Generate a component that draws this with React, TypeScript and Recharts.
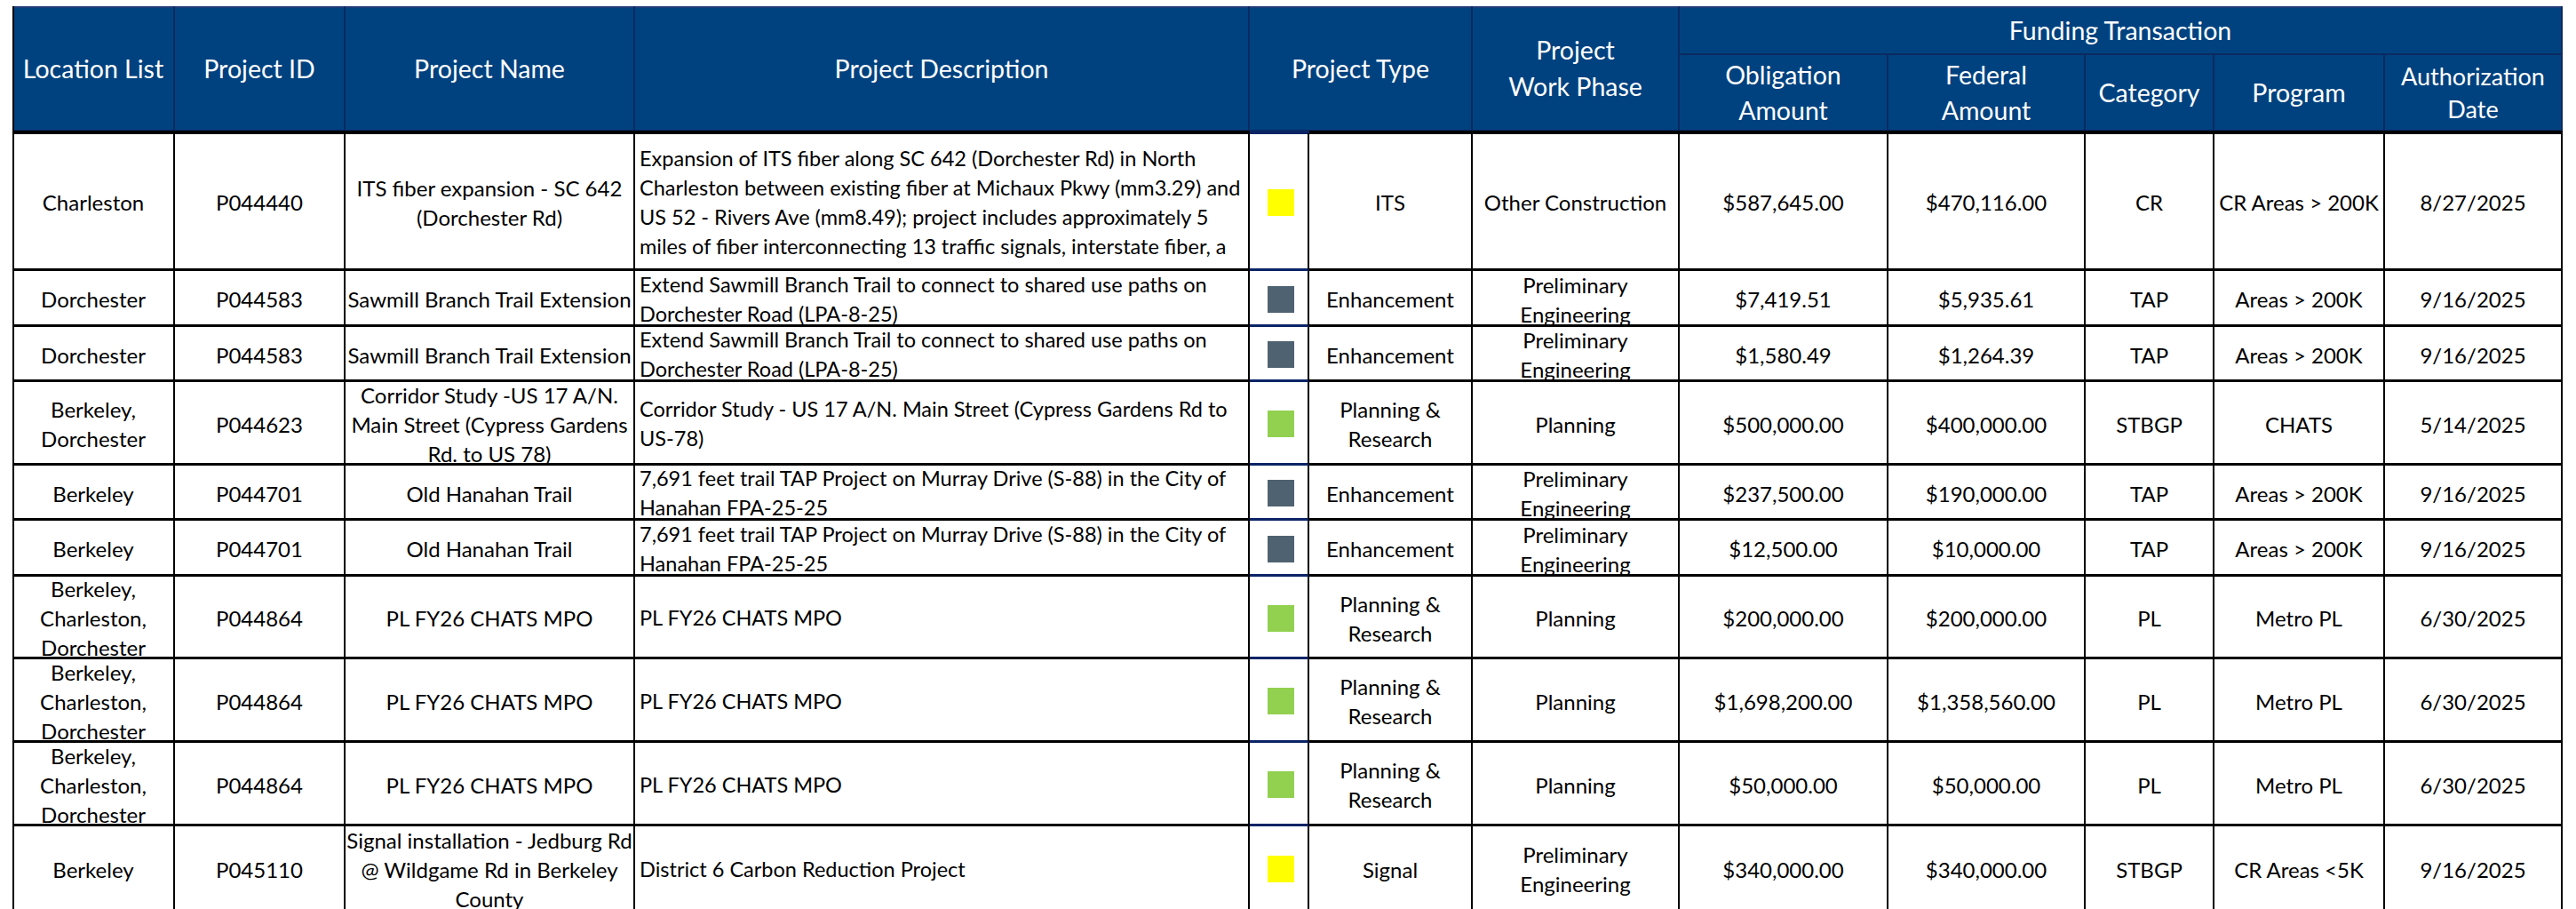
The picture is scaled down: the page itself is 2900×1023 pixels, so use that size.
import React from "react";
import { Surface, Rectangle } from "recharts";

// --- data ---
const locations = [
  "Charleston",
  "Dorchester",
  "Dorchester",
  "Berkeley,\nDorchester",
  "Berkeley",
  "Berkeley",
  "Berkeley,\nCharleston,\nDorchester",
  "Berkeley,\nCharleston,\nDorchester",
  "Berkeley,\nCharleston,\nDorchester",
  "Berkeley",
];
const projectIds = [
  "P044440", "P044583", "P044583", "P044623", "P044701",
  "P044701", "P044864", "P044864", "P044864", "P045110",
];
const projectNames = [
  "ITS fiber expansion - SC 642\n(Dorchester Rd)",
  "Sawmill Branch Trail Extension",
  "Sawmill Branch Trail Extension",
  "Corridor Study -US 17 A/N.\nMain Street (Cypress Gardens\nRd. to US 78)",
  "Old Hanahan Trail",
  "Old Hanahan Trail",
  "PL FY26 CHATS MPO",
  "PL FY26 CHATS MPO",
  "PL FY26 CHATS MPO",
  "Signal installation - Jedburg Rd\n@ Wildgame Rd in Berkeley\nCounty",
];
const descriptions = [
  "Expansion of ITS fiber along SC 642 (Dorchester Rd) in North\nCharleston between existing fiber at Michaux Pkwy (mm3.29) and\nUS 52 - Rivers Ave (mm8.49); project includes approximately 5\nmiles of fiber interconnecting 13 traffic signals, interstate fiber, a",
  "Extend Sawmill Branch Trail to connect to shared use paths on\nDorchester Road (LPA-8-25)",
  "Extend Sawmill Branch Trail to connect to shared use paths on\nDorchester Road (LPA-8-25)",
  "Corridor Study - US 17 A/N. Main Street (Cypress Gardens Rd to\nUS-78)",
  "7,691 feet trail TAP Project on Murray Drive (S-88) in the City of\nHanahan FPA-25-25",
  "7,691 feet trail TAP Project on Murray Drive (S-88) in the City of\nHanahan FPA-25-25",
  "PL FY26 CHATS MPO",
  "PL FY26 CHATS MPO",
  "PL FY26 CHATS MPO",
  "District 6 Carbon Reduction Project",
];
const projectTypes = [
  "ITS", "Enhancement", "Enhancement", "Planning &\nResearch", "Enhancement",
  "Enhancement", "Planning &\nResearch", "Planning &\nResearch", "Planning &\nResearch", "Signal",
];
const workPhases = [
  "Other Construction", "Preliminary\nEngineering", "Preliminary\nEngineering", "Planning",
  "Preliminary\nEngineering", "Preliminary\nEngineering", "Planning", "Planning", "Planning",
  "Preliminary\nEngineering",
];
const obligationAmounts = [
  587645, 7419.51, 1580.49, 500000, 237500, 12500, 200000, 1698200, 50000, 340000,
];
const federalAmounts = [
  470116, 5935.61, 1264.39, 400000, 190000, 10000, 200000, 1358560, 50000, 340000,
];
const categories = ["CR", "TAP", "TAP", "STBGP", "TAP", "TAP", "PL", "PL", "PL", "STBGP"];
const programs = [
  "CR Areas > 200K", "Areas > 200K", "Areas > 200K", "CHATS", "Areas > 200K",
  "Areas > 200K", "Metro PL", "Metro PL", "Metro PL", "CR Areas <5K",
];
const authDates = [
  "8/27/2025", "9/16/2025", "9/16/2025", "5/14/2025", "9/16/2025",
  "9/16/2025", "6/30/2025", "6/30/2025", "6/30/2025", "9/16/2025",
];

const TYPE_COLORS: Record<string, string> = {
  ITS: "#FFFF00",
  Signal: "#FFFF00",
  Enhancement: "#4F6271",
  "Planning &\nResearch": "#92D050",
};

// --- layout ---
const FONT = "Lato, 'Open Sans', sans-serif";
const NAVY = "#00427F";
const NAVY_LINE = "#0B2A60";
const COL_X = [15, 197, 389, 715, 1407, 1474, 1658, 1891, 2126, 2348, 2493, 2685, 2885];
const ROW_Y = [150, 305, 368, 430, 524, 586, 649, 742, 836, 930, 1026];
const HEAD_TOP = 7;
const HEAD_MID = 62;
const HEAD_BOTTOM = 148;

const money = (v: number) =>
  "$" + v.toLocaleString("en-US", { minimumFractionDigits: 2, maximumFractionDigits: 2 });

function HeaderCell({
  x0, x1, y0, y1, label, size = 28.5, lh = 38,
}: { x0: number; x1: number; y0: number; y1: number; label: string; size?: number; lh?: number }) {
  return (
    <div
      style={{
        position: "absolute",
        left: x0,
        top: y0,
        width: x1 - x0,
        height: y1 - y0,
        boxSizing: "border-box",
        borderRight: `2px solid ${NAVY_LINE}`,
        borderBottom: `2px solid ${NAVY_LINE}`,
        display: "flex",
        alignItems: "center",
        justifyContent: "center",
        textAlign: "center",
        whiteSpace: "pre",
        color: "#fff",
        fontSize: size,
        lineHeight: `${lh}px`,
      }}
    >
      {label}
    </div>
  );
}

function BodyCell({
  x0, x1, y0, y1, children, align = "center", navy = false, size = 24,
}: {
  x0: number; x1: number; y0: number; y1: number; children: React.ReactNode;
  align?: "center" | "left"; navy?: boolean; size?: number;
}) {
  return (
    <div
      style={{
        position: "absolute",
        left: x0,
        top: y0,
        width: x1 - x0,
        height: y1 - y0,
        boxSizing: "border-box",
        borderRight: "2px solid #000",
        borderBottom: `3px solid ${navy ? "#0A2466" : "#000"}`,
        display: "flex",
        alignItems: "center",
        justifyContent: align === "left" ? "flex-start" : "center",
        textAlign: align,
        paddingLeft: align === "left" ? 5 : 0,
        paddingTop: 3,
        whiteSpace: "pre",
        overflow: "hidden",
        color: "#000",
        fontSize: size,
        lineHeight: "33px",
      }}
    >
      <div style={{ width: "100%" }}>{children}</div>
    </div>
  );
}

function TypeSwatch({ color }: { color: string }) {
  return (
    <Surface width={30} height={30} viewBox={{ x: 0, y: 0, width: 30, height: 30 }}>
      <Rectangle x={0} y={0} width={30} height={30} fill={color} stroke="none" />
    </Surface>
  );
}

export default function App() {
  const cols: string[][] = [
    locations,
    projectIds,
    projectNames,
    descriptions,
    [],
    projectTypes,
    workPhases,
    obligationAmounts.map(money),
    federalAmounts.map(money),
    categories,
    programs,
    authDates,
  ];

  return (
    <div
      style={{
        position: "absolute",
        left: 0,
        top: 0,
        width: 2900,
        height: 1023,
        overflow: "hidden",
        background: "#fff",
        fontFamily: FONT,
      }}
    >
      {/* header block */}
      <div
        style={{
          position: "absolute",
          left: COL_X[0],
          top: HEAD_TOP,
          width: COL_X[12] - COL_X[0],
          height: HEAD_BOTTOM - HEAD_TOP,
          background: NAVY,
          borderTop: `2px solid #1F3C78`,
          boxSizing: "border-box",
        }}
      />
      <HeaderCell x0={COL_X[0]} x1={COL_X[1]} y0={HEAD_TOP} y1={HEAD_BOTTOM} label="Location List" />
      <HeaderCell x0={COL_X[1]} x1={COL_X[2]} y0={HEAD_TOP} y1={HEAD_BOTTOM} label="Project ID" />
      <HeaderCell x0={COL_X[2]} x1={COL_X[3]} y0={HEAD_TOP} y1={HEAD_BOTTOM} label="Project Name" />
      <HeaderCell x0={COL_X[3]} x1={COL_X[4]} y0={HEAD_TOP} y1={HEAD_BOTTOM} label="Project Description" />
      <HeaderCell x0={COL_X[4]} x1={COL_X[6]} y0={HEAD_TOP} y1={HEAD_BOTTOM} label="Project Type" />
      <HeaderCell x0={COL_X[6]} x1={COL_X[7]} y0={HEAD_TOP} y1={HEAD_BOTTOM} label={"Project\nWork Phase"} lh={41} />
      <HeaderCell x0={COL_X[7]} x1={COL_X[12]} y0={HEAD_TOP} y1={HEAD_MID} label="Funding Transaction" />
      <HeaderCell x0={COL_X[7]} x1={COL_X[8]} y0={HEAD_MID} y1={HEAD_BOTTOM} label={"Obligation\nAmount"} lh={40} />
      <HeaderCell x0={COL_X[8]} x1={COL_X[9]} y0={HEAD_MID} y1={HEAD_BOTTOM} label={"Federal\nAmount"} lh={40} />
      <HeaderCell x0={COL_X[9]} x1={COL_X[10]} y0={HEAD_MID} y1={HEAD_BOTTOM} label="Category" />
      <HeaderCell x0={COL_X[10]} x1={COL_X[11]} y0={HEAD_MID} y1={HEAD_BOTTOM} label="Program" />
      <HeaderCell x0={COL_X[11]} x1={COL_X[12]} y0={HEAD_MID} y1={HEAD_BOTTOM} label={"Authorization\nDate"} size={27} lh={37} />

      {/* thick rule under header */}
      <div
        style={{
          position: "absolute",
          left: COL_X[0],
          top: HEAD_BOTTOM - 1,
          width: COL_X[12] - COL_X[0],
          height: 4,
          background: "#000",
        }}
      />
      <div
        style={{
          position: "absolute",
          left: COL_X[4],
          top: HEAD_BOTTOM - 1,
          width: COL_X[5] - COL_X[4],
          height: 4,
          background: "#0A2466",
        }}
      />
      {/* left border */}
      <div
        style={{
          position: "absolute",
          left: COL_X[0] - 1,
          top: HEAD_TOP,
          width: 2,
          height: 1023 - HEAD_TOP,
          background: "#000",
        }}
      />

      {locations.map((_, r) =>
        cols.map((col, c) => {
          const props = { x0: COL_X[c], x1: COL_X[c + 1], y0: ROW_Y[r], y1: ROW_Y[r + 1] };
          if (c === 4) {
            return (
              <BodyCell key={`${r}-${c}`} {...props} navy>
                <div style={{ display: "flex", justifyContent: "center", paddingLeft: 4 }}>
                  <TypeSwatch color={TYPE_COLORS[projectTypes[r]]} />
                </div>
              </BodyCell>
            );
          }
          return (
            <BodyCell
              key={`${r}-${c}`}
              {...props}
              align={c === 3 ? "left" : "center"}
              size={c === 3 ? 23.5 : 24}
            >
              {col[r]}
            </BodyCell>
          );
        })
      )}
    </div>
  );
}
